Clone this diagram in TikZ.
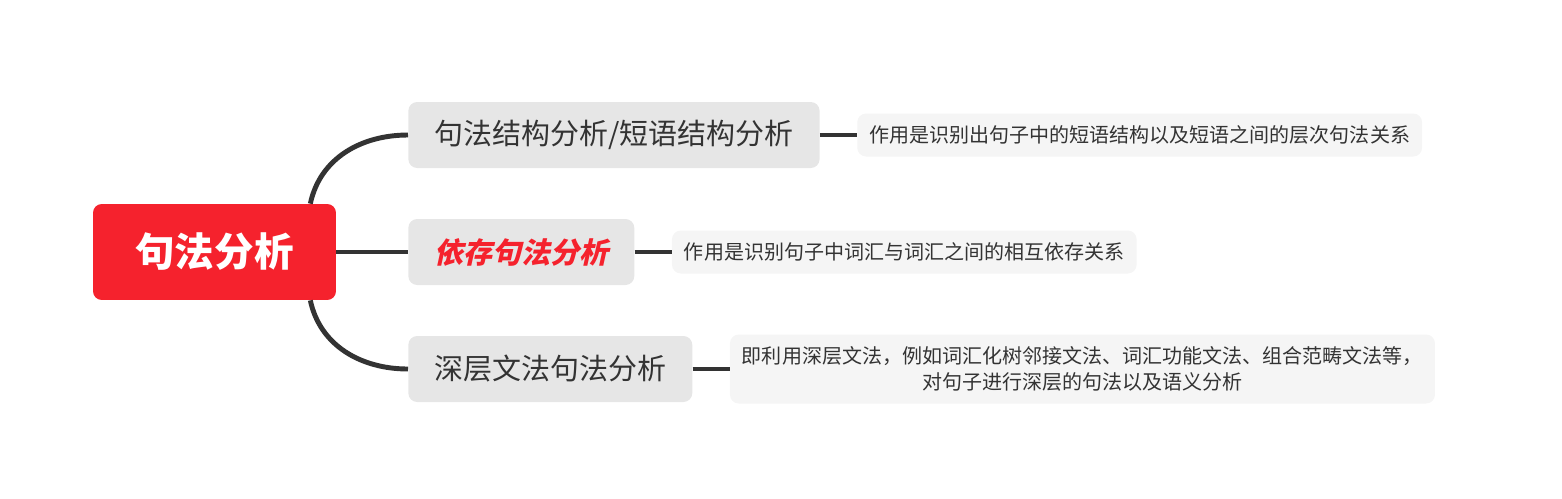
\documentclass[tikz,border=0pt]{standalone}
\usepackage{fontspec}
\usepackage{xcolor}
\usepackage{tikz}
\usetikzlibrary{positioning}
\setmainfont{Noto Sans CJK SC}
\newfontfamily\cjkslant[FakeSlant=0.22]{Noto Sans CJK SC}
\definecolor{rootred}{HTML}{F5222D}
\definecolor{topicgray}{HTML}{E6E6E6}
\definecolor{notegray}{HTML}{F5F5F5}
\definecolor{inkgray}{HTML}{333333}

\begin{document}
\begin{tikzpicture}[x=0.02cm, y=-0.02cm, node distance=0.74cm,
    rootbox/.style={rectangle, rounded corners=5pt, fill=rootred,
                    minimum width=4.86cm, minimum height=1.92cm,
                    text=white, font=\fontsize{22.5}{26}\selectfont\bfseries},
    topic/.style={rectangle, rounded corners=5pt, fill=topicgray,
                  minimum height=1.32cm, inner xsep=0.52cm,
                  text=inkgray, font=\fontsize{16.5}{19}\selectfont},
    note/.style={rectangle, rounded corners=5pt, fill=notegray,
                 minimum height=0.86cm, inner xsep=0.24cm, align=center,
                 text=inkgray, font=\fontsize{11.4}{14.8}\selectfont},
    branch/.style={draw=inkgray, line width=2.8pt},
    twig/.style={draw=inkgray, line width=2.3pt}
]
\useasboundingbox (0,0) rectangle (1562,498);

\node (root) [rootbox] at (214.5,252) {句法分析};

\node (phrase) [topic, anchor=west] at (408,135) {句法结构分析/短语结构分析};
\node (depend) [topic, anchor=west, text=rootred,
                font=\fontsize{16.5}{19}\selectfont\cjkslant\bfseries] at (408,252) {依存句法分析};
\node (deep)   [topic, anchor=west] at (408,369) {深层文法句法分析};

\node (phrasenote) [note, right=of phrase] {作用是识别出句子中的短语结构以及短语之间的层次句法关系};
\node (dependnote) [note, right=of depend] {作用是识别句子中词汇与词汇之间的相互依存关系};
\node (deepnote)   [note, right=of deep, minimum height=1.38cm]
      {即利用深层文法，例如词汇化树邻接文法、词汇功能文法、组合范畴文法等，\\对句子进行深层的句法以及语义分析};

% main branches
\draw [branch] ([xshift=-0.52cm]root.north east) to[out=78, in=180] (phrase.west);
\draw [branch] (root.east) -- (depend.west);
\draw [branch] ([xshift=-0.52cm]root.south east) to[out=-78, in=180] (deep.west);

% notes
\draw [twig] (phrase) -- (phrasenote);
\draw [twig] (depend) -- (dependnote);
\draw [twig] (deep) -- (deepnote);
\end{tikzpicture}
\end{document}
